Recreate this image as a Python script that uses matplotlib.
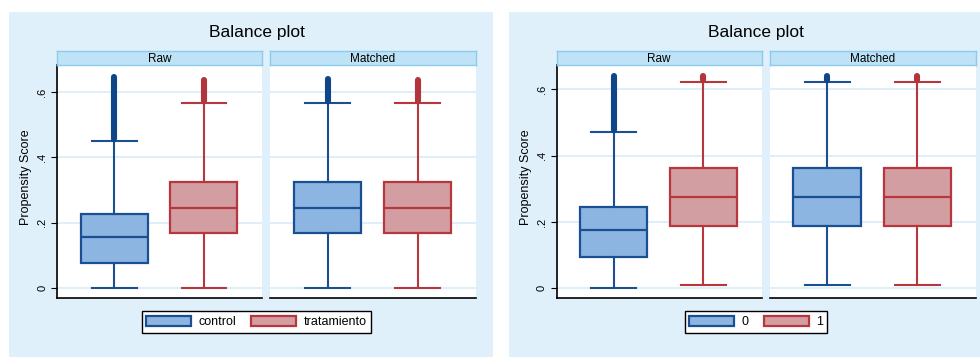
import matplotlib.pyplot as plt
from matplotlib.patches import Patch, Rectangle

plt.rcParams['font.family'] = ['Liberation Sans', 'DejaVu Sans']

# box statistics: low whisker, q1, median, q3, high whisker, largest outlier
panels = ["Raw", "Matched"]

left_raw_ctrl = [0.0, 0.076, 0.155, 0.225, 0.450, 0.647]
left_raw_trt = [0.0, 0.169, 0.246, 0.325, 0.566, 0.638]
left_match_ctrl = [0.0, 0.169, 0.246, 0.325, 0.566, 0.640]
left_match_trt = [0.0, 0.169, 0.246, 0.325, 0.566, 0.638]
left_groups = ["control", "tratamiento"]

right_raw_0 = [0.0, 0.094, 0.177, 0.244, 0.472, 0.640]
right_raw_1 = [0.009, 0.189, 0.274, 0.362, 0.623, 0.640]
right_match_0 = [0.009, 0.189, 0.274, 0.362, 0.623, 0.640]
right_match_1 = [0.009, 0.189, 0.274, 0.362, 0.623, 0.640]
right_groups = ["0", "1"]

yticks = [0, 0.2, 0.4, 0.6]
ytick_labels = ["0", ".2", ".4", ".6"]

BLUE = "#1a4f91"
BLUE_FILL = "#8cb5e1"
RED = "#b8373f"
RED_FILL = "#d39ea2"
BG = "#dff0fb"
STRIP = "#bfe3f6"
STRIP_EDGE = "#8dcbee"
GRID = "#dbeef9"

W, H = 980, 357
fig = plt.figure(figsize=(W / 100, H / 100), dpi=100)


def px(x0, y0, x1, y1):
    # pixel box (top-left origin) -> figure fraction rect
    return [x0 / W, 1 - y1 / H, (x1 - x0) / W, (y1 - y0) / H]


def to_stats(v):
    return dict(whislo=v[0], q1=v[1], med=v[2], q3=v[3], whishi=v[4], fliers=[])


def draw_chart(dx, bg, ylim, data, groups):
    fig.patches.append(Rectangle((bg[0] / W, 1 - bg[3] / H), (bg[2] - bg[0]) / W,
                                 (bg[3] - bg[1]) / H, transform=fig.transFigure,
                                 facecolor=BG, edgecolor="none", zorder=-10))
    xs = [(57 + dx, 262 + dx), (270 + dx, 476 + dx)]
    for i, (name, pair) in enumerate(zip(panels, data)):
        x0, x1 = xs[i]
        ax = fig.add_axes(px(x0, 65, x1, 298))
        ax.set_xlim(0.361, 2.647)
        ax.set_ylim(*ylim)
        for y in yticks:
            ax.axhline(y, color=GRID, lw=1.3, zorder=0)
        for pos, vals, ec, fc in zip([1, 2], pair, [BLUE, RED], [BLUE_FILL, RED_FILL]):
            ax.bxp([to_stats(vals)], positions=[pos], widths=0.747, capwidths=0.50,
                   patch_artist=True, showfliers=False,
                   boxprops=dict(facecolor=fc, edgecolor=ec, lw=1.6),
                   whiskerprops=dict(color=ec, lw=1.5),
                   capprops=dict(color=ec, lw=1.5),
                   medianprops=dict(color=ec, lw=1.6))
            # outliers above the upper whisker sit so close they merge into a bar
            mcol = "#0f4689" if ec == BLUE else "#b2343c"
            ax.plot([pos, pos], [vals[4] + 0.006, vals[5]], color=mcol, lw=4.4,
                    solid_capstyle="round", zorder=3)
        for s in ["top", "right"]:
            ax.spines[s].set_visible(False)
        ax.spines["bottom"].set_linewidth(1.2)
        ax.set_xticks([])
        if i == 0:
            ax.spines["left"].set_linewidth(1.2)
            ax.set_yticks(yticks)
            ax.set_yticklabels(ytick_labels, rotation=90, va="center", fontsize=8)
            ax.tick_params(axis="y", length=4, width=0.8, pad=3)
        else:
            ax.spines["left"].set_visible(False)
            ax.set_yticks([])
        sax = fig.add_axes(px(x0, 51, x1, 65))
        sax.set_facecolor(STRIP)
        for sp in sax.spines.values():
            sp.set_color(STRIP_EDGE)
            sp.set_linewidth(1.0)
        sax.set_xticks([])
        sax.set_yticks([])
        sax.text(0.5, 0.45, name, ha="center", va="center", fontsize=8.5,
                 transform=sax.transAxes)
    cx = dx + 256.5
    fig.text(cx / W, 1 - 33 / H, "Balance plot", ha="center", va="center", fontsize=12.5)
    fig.text((26 + dx) / W, 1 - 177 / H, "Propensity Score", rotation=90,
             ha="center", va="center", fontsize=9)
    handles = [Patch(facecolor=BLUE_FILL, edgecolor=BLUE, lw=1.6, label=groups[0]),
               Patch(facecolor=RED_FILL, edgecolor=RED, lw=1.6, label=groups[1])]
    fig.legend(handles=handles, loc="center", bbox_to_anchor=(cx / W, 1 - 322 / H),
               ncol=2, fontsize=9, frameon=True, fancybox=False, edgecolor="black",
               framealpha=1, handlelength=3.6, handleheight=0.9, columnspacing=1.2,
               handletextpad=0.6, borderpad=0.35)


draw_chart(0, (9, 12, 493, 357), (-0.0306, 0.6826),
           [(left_raw_ctrl, left_raw_trt), (left_match_ctrl, left_match_trt)], left_groups)
draw_chart(499.5, (509, 12, 980, 357), (-0.0292, 0.673),
           [(right_raw_0, right_raw_1), (right_match_0, right_match_1)], right_groups)

fig.savefig("out.png", dpi=100, facecolor="white")
